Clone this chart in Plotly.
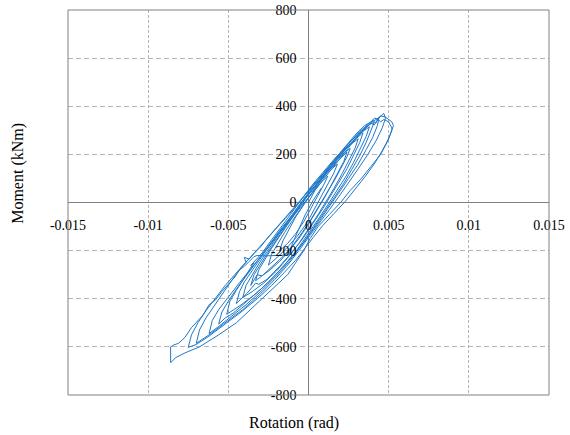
import plotly.graph_objects as go

# ---- data: (rotation [rad], moment [kNm]) read cycle by cycle ----
cyc_start = [(0, 0), (0.0004, 50), (0.0008, 85), (0.0012, 110)]
cyc_a = [(0.0010, 80), (0.0006, 30), (0.0002, -20), (-0.0003, -80), (-0.0008, -130), (-0.0013, -170), (-0.0018, -200),
         (-0.0016, -160), (-0.0012, -110), (-0.0008, -60), (-0.0003, -10), (0.0002, 40), (0.0007, 85), (0.0012, 125), (0.0018, 160)]
cyc_b = [(0.0016, 125), (0.0012, 75), (0.0008, 25), (0.0004, -25), (-0.0001, -85), (-0.0007, -140), (-0.0013, -185), (-0.0019, -225), (-0.0025, -260),
         (-0.0023, -215), (-0.0019, -170), (-0.0015, -125), (-0.0010, -75), (-0.0005, -25), (0.0001, 30), (0.0007, 85), (0.0012, 130), (0.0018, 170), (0.0024, 210)]
cyc_c = [(0.0022, 170), (0.0018, 120), (0.0014, 70), (0.0010, 20), (0.0005, -35), (0.0000, -90), (-0.0006, -150), (-0.0012, -200), (-0.0018, -245), (-0.0024, -280), (-0.0029, -305), (-0.0033, -325),
         (-0.0031, -280), (-0.0027, -235), (-0.0023, -190), (-0.0018, -140), (-0.0013, -90), (-0.0008, -40), (-0.0002, 15), (0.0004, 65), (0.0010, 115), (0.0016, 160), (0.0021, 200), (0.0026, 225)]
cyc_c2 = [(0.0024, 190), (0.0020, 140), (0.0016, 90), (0.0011, 35), (0.0007, -10), (0.0002, -65), (-0.0004, -125), (-0.0010, -180), (-0.0016, -225), (-0.0023, -270), (-0.0029, -305), (-0.0032, -300), (-0.0036, -345),
          (-0.0034, -300), (-0.0030, -255), (-0.0026, -215), (-0.0021, -165), (-0.0016, -115), (-0.0011, -65), (-0.0005, -10), (0.0001, 45), (0.0007, 95), (0.0013, 145), (0.0019, 190), (0.0025, 235), (0.0031, 265)]
cyc_d = [(0.0029, 225), (0.0025, 170), (0.0021, 120), (0.0016, 60), (0.0011, 5), (0.0006, -50), (0.0000, -110), (-0.0006, -170), (-0.0013, -230), (-0.0020, -285), (-0.0028, -335), (-0.0035, -370), (-0.0041, -395),
         (-0.0039, -345), (-0.0035, -300), (-0.0031, -255), (-0.0026, -205), (-0.0021, -155), (-0.0016, -105), (-0.0010, -50), (-0.0004, 5), (0.0002, 60), (0.0009, 115), (0.0015, 165), (0.0021, 210), (0.0027, 250), (0.0034, 290)]
cyc_d2 = [(0.0032, 250), (0.0028, 195), (0.0024, 140), (0.0019, 85), (0.0014, 30), (0.0009, -25), (0.0003, -85), (-0.0003, -145), (-0.0010, -205), (-0.0018, -265), (-0.0026, -320), (-0.0031, -340), (-0.0033, -335), (-0.0038, -375), (-0.0045, -420),
          (-0.0043, -370), (-0.0040, -330), (-0.0035, -280), (-0.0030, -230), (-0.0025, -185), (-0.0019, -130), (-0.0013, -80), (-0.0007, -30), (-0.0001, 25), (0.0006, 80), (0.0012, 135), (0.0019, 190), (0.0025, 235), (0.0031, 280), (0.0035, 300), (0.0038, 315)]
cyc_e = [(0.0036, 275), (0.0032, 220), (0.0028, 165), (0.0023, 105), (0.0018, 50), (0.0012, -10), (0.0006, -70), (0.0000, -130), (-0.0007, -195), (-0.0015, -260), (-0.0024, -325), (-0.0033, -380), (-0.0042, -425), (-0.0051, -465),
         (-0.0049, -410), (-0.0045, -365), (-0.0040, -315), (-0.0035, -265), (-0.0034, -250), (-0.0036, -262), (-0.0029, -210), (-0.0023, -155), (-0.0017, -100), (-0.0011, -45), (-0.0005, 10), (0.0002, 70), (0.0009, 125), (0.0016, 180), (0.0023, 230), (0.0030, 280), (0.0036, 315), (0.0041, 335)]
cyc_e2 = [(0.0039, 300), (0.0036, 250), (0.0032, 195), (0.0027, 135), (0.0022, 80), (0.0016, 20), (0.0010, -40), (0.0004, -100), (-0.0003, -165), (-0.0011, -230), (-0.0019, -290), (-0.0028, -350), (-0.0038, -410), (-0.0047, -460), (-0.0052, -480), (-0.0056, -505),
          (-0.0054, -455), (-0.0050, -410), (-0.0045, -360), (-0.0040, -315), (-0.0034, -260), (-0.0028, -205), (-0.0022, -150), (-0.0016, -100), (-0.0010, -50), (-0.0004, 5), (0.0003, 60), (0.0010, 120), (0.0017, 175), (0.0024, 230), (0.0031, 280), (0.0036, 310), (0.0039, 330), (0.0041, 322), (0.0043, 345), (0.0044, 355)]
cyc_f = [(0.0043, 320), (0.0040, 270), (0.0036, 220), (0.0031, 160), (0.0025, 100), (0.0019, 40), (0.0013, -15), (0.0007, -75), (0.0001, -130), (-0.0005, -185), (-0.0012, -245), (-0.0020, -305), (-0.0029, -365), (-0.0039, -425), (-0.0049, -480), (-0.0056, -515), (-0.0062, -545),
         (-0.0060, -490), (-0.0056, -445), (-0.0051, -400), (-0.0045, -350), (-0.0039, -300), (-0.0033, -250), (-0.0027, -200), (-0.0020, -145), (-0.0014, -95), (-0.0008, -45), (-0.0002, 5), (0.0005, 60), (0.0012, 120), (0.0019, 180), (0.0026, 240), (0.0033, 295), (0.0038, 325), (0.0040, 342), (0.0042, 330), (0.0044, 352), (0.0046, 365), (0.0047, 370)]
cyc_g = [(0.0048, 350), (0.0046, 310), (0.0042, 255), (0.0037, 200), (0.0031, 140), (0.0025, 80), (0.0019, 25), (0.0013, -30), (0.0006, -90), (0.0000, -145), (-0.0006, -200), (-0.0013, -260), (-0.0021, -320), (-0.0030, -380), (-0.0041, -445), (-0.0052, -500), (-0.0062, -550), (-0.0070, -585),
         (-0.0068, -530), (-0.0064, -480), (-0.0059, -430), (-0.0054, -380), (-0.0048, -325), (-0.0042, -270), (-0.0039, -250), (-0.0040, -228), (-0.0037, -235), (-0.0034, -212), (-0.0030, -185), (-0.0024, -135), (-0.0018, -90), (-0.0012, -45), (-0.0006, 0), (0.0001, 55), (0.0008, 110), (0.0015, 170), (0.0022, 225), (0.0029, 280), (0.0035, 320), (0.0039, 335), (0.0041, 350), (0.0043, 348), (0.0045, 360), (0.0048, 355), (0.0050, 345), (0.0052, 335), (0.0053, 320), (0.0052, 300)]
cyc_h = [(0.0050, 265), (0.0046, 215), (0.0041, 160), (0.0035, 105), (0.0029, 55), (0.0023, 5), (0.0016, -45), (0.0009, -95), (0.0003, -145), (-0.0002, -190), (-0.0008, -240), (-0.0015, -290), (-0.0023, -345), (-0.0032, -400), (-0.0042, -455), (-0.0052, -505), (-0.0062, -555), (-0.0070, -590), (-0.0075, -602),
         (-0.0073, -550), (-0.0069, -500), (-0.0064, -450), (-0.0058, -395), (-0.0052, -345), (-0.0046, -300), (-0.0040, -255), (-0.0034, -210), (-0.0028, -165), (-0.0021, -115), (-0.0015, -70), (-0.0009, -25), (-0.0003, 25), (0.0004, 80), (0.0011, 135), (0.0018, 190), (0.0025, 245), (0.0032, 295), (0.0038, 330), (0.0043, 348), (0.0045, 335), (0.0047, 345), (0.0050, 335), (0.0052, 310), (0.0052, 300)]
cyc_i = [(0.0049, 250), (0.0045, 200), (0.0039, 150), (0.0033, 100), (0.0026, 50), (0.0020, 0), (0.0013, -50), (0.0006, -100), (0.0001, -150), (-0.0003, -200), (-0.0008, -250), (-0.0013, -300), (-0.0021, -350), (-0.0029, -400), (-0.0037, -450), (-0.0045, -500), (-0.0056, -550), (-0.0068, -600), (-0.0077, -625), (-0.0083, -645), (-0.0085, -660), (-0.0086, -665),
         (-0.0086, -600), (-0.0084, -592), (-0.0081, -585), (-0.0077, -560), (-0.0073, -520), (-0.0069, -490), (-0.0066, -470), (-0.0062, -425), (-0.0058, -405), (-0.0054, -370), (-0.0050, -340), (-0.0046, -310), (-0.0043, -280), (-0.0040, -265), (-0.0037, -245), (-0.0034, -225), (-0.0032, -220), (-0.0027, -222), (-0.0020, -220), (-0.0012, -218), (-0.0010, -170), (-0.0006, -110), (-0.0002, -50), (0.0003, 10), (0.0008, 60)]

x_ticks = [-0.015, -0.01, -0.005, 0, 0.005, 0.01, 0.015]
x_tick_text = ["-0.015", "-0.01", "-0.005", "0", "0.005", "0.01", "0.015"]
y_ticks = [-800, -600, -400, -200, 0, 200, 400, 600, 800]
y_tick_text = ["-800", "-600", "-400", "-200", "0", "200", "400", "600", "800"]

record = (cyc_start + cyc_a + cyc_b + cyc_c + cyc_c2 + cyc_d + cyc_d2 + cyc_e + cyc_e2
          + cyc_f + cyc_g + cyc_h + cyc_i)
rot = [p[0] for p in record]
mom = [p[1] for p in record]

FONT = "Liberation Serif, Times New Roman, Times, serif"

fig = go.Figure()
fig.add_trace(go.Scatter(x=rot, y=mom, mode="lines",
                         line=dict(color="#1f78c8", width=1),
                         showlegend=False, hoverinfo="skip"))

fig.update_layout(
    width=570, height=435,
    margin=dict(l=68, r=21, t=10, b=40, autoexpand=False),
    paper_bgcolor="white", plot_bgcolor="white",
    font=dict(family=FONT, size=14, color="black"),
    xaxis=dict(range=[-0.015, 0.015], tickvals=x_ticks, ticktext=x_tick_text,
               showgrid=True, gridcolor="#b4b4b4", griddash="3px,2px", gridwidth=1,
               zeroline=True, zerolinecolor="#808080", zerolinewidth=1,
               anchor="free", position=0.5, side="bottom", ticks="",
               ticklabelstandoff=12, showline=False, automargin=False),
    yaxis=dict(range=[-800, 800], tickvals=y_ticks, ticktext=y_tick_text,
               showgrid=True, gridcolor="#b4b4b4", griddash="5px,3px", gridwidth=1,
               zeroline=True, zerolinecolor="#808080", zerolinewidth=1,
               anchor="free", position=0.5, side="left", ticks="",
               ticklabelstandoff=12, showline=False, automargin=False),
    shapes=[dict(type="rect", xref="paper", yref="paper", x0=0, y0=0, x1=1, y1=1,
                 line=dict(color="#808080", width=1), layer="above")],
    annotations=[
        dict(text="Rotation (rad)", xref="paper", yref="paper", x=0.47, y=-0.073,
             showarrow=False, font=dict(family=FONT, size=16, color="black"),
             xanchor="center", yanchor="middle"),
        dict(text="Moment (kNm)", xref="paper", yref="paper", x=-0.104, y=0.577,
             showarrow=False, textangle=-90, font=dict(family=FONT, size=16, color="black"),
             xanchor="center", yanchor="middle"),
    ],
)

fig.write_html("out.html")
